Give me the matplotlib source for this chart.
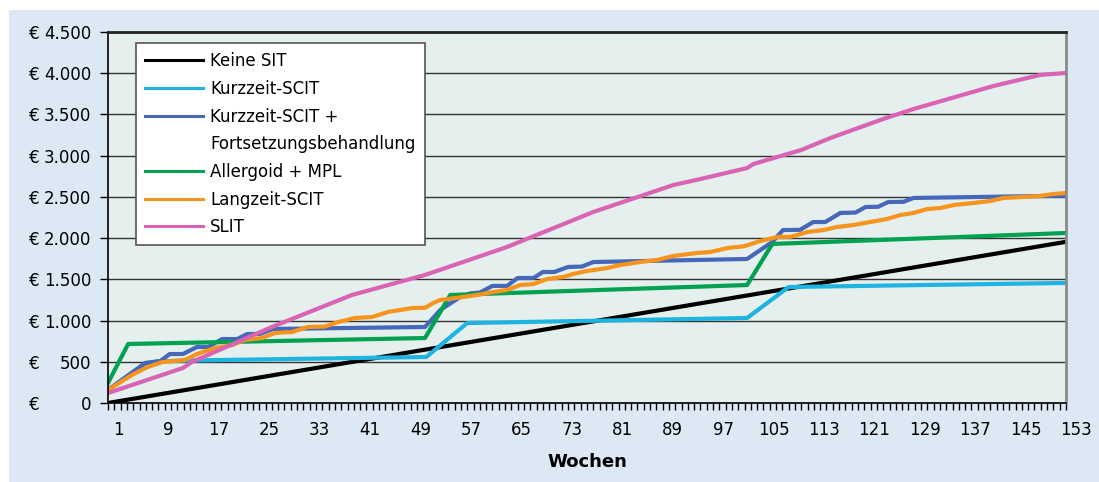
import matplotlib
matplotlib.use("Agg")
import matplotlib.pyplot as plt
from matplotlib.lines import Line2D
from matplotlib.patches import Rectangle
from matplotlib.transforms import ScaledTranslation, blended_transform_factory

# Kumulierte Kosten je Therapieform (Wochen / Euro)
keine_wochen = [1, 153]
keine_euro = [0, 1955]

kurz_wochen = [1, 7, 9, 13, 51.5, 58, 102.4, 109, 153]
kurz_euro = [158, 485, 505, 515, 558, 970, 1031, 1407, 1456]

fort_wochen = [1, 6.9, 9.3, 10.8, 12.9, 15.1, 16.9, 19.1, 21.5, 23.1, 25.1, 27.2,
               51.3, 53.7, 56.9, 58.5, 60, 62, 64.3, 66, 68.5, 70, 71.8, 74, 76.2,
               78, 102.4, 106.4, 108.1, 110.8, 112.9, 114.8, 117.2, 119.6, 121.2,
               123.2, 124.8, 127.2, 128.8, 153]
fort_euro = [158, 485, 509, 594, 594, 679, 679, 776, 776, 837, 837, 898,
             922, 1128, 1286, 1330, 1340, 1420, 1420, 1516, 1516, 1589, 1589, 1650, 1655,
             1710, 1747, 1953, 2098, 2100, 2195, 2195, 2305, 2310, 2377,
             2380, 2438, 2440, 2487, 2515]

allerg_wochen = [1, 4.2, 51.3, 55.3, 102.4, 106.4, 153]
allerg_euro = [243, 716, 788, 1310, 1431, 1929, 2062]

lang_wochen = [1, 4.8, 7.3, 9.7, 13.2, 15.1, 18, 20.7, 22.7, 25.4, 27.5, 30.2, 32.7,
               35.4, 37.5, 40.2, 42.9, 45.4, 49.3, 51.3, 52.6, 53.7, 57.3, 59.6, 62.1,
               64.3, 66.4, 68.5, 70.7, 73.2, 74.8, 77, 80.2, 82.3, 85.4, 88.1, 90.7,
               94.5, 96.6, 99.3, 101.8, 102.6, 104.5, 107.2, 109.3, 112, 114.5, 116.7,
               119.3, 121.9, 124.6, 126.7, 128.8, 131, 133.1, 135.2, 138.3, 141, 143.1,
               146.2, 148.9, 151, 153]
lang_euro = [158, 340, 437, 497, 522, 594, 667, 703, 764, 788, 849, 861, 922,
             927, 982, 1031, 1043, 1104, 1152, 1155, 1213, 1249, 1286, 1310, 1346,
             1371, 1431, 1443, 1504, 1528, 1565, 1601, 1637, 1674, 1710, 1735, 1783,
             1820, 1832, 1880, 1900, 1917, 1965, 2014, 2016, 2074, 2098, 2135,
             2159, 2195, 2232, 2280, 2305, 2353, 2365, 2402, 2426, 2450, 2487,
             2499, 2511, 2535, 2547]

slit_wochen = [1, 12.9, 14.3, 27, 39.7, 51.3, 64.3, 78, 90.7, 95, 102.4, 103.4,
               111, 115.6, 124, 128.8, 141.5, 148.9, 153]
slit_euro = [121, 425, 497, 922, 1310, 1553, 1892, 2317, 2644, 2717, 2850, 2899,
             3069, 3214, 3445, 3566, 3845, 3979, 4003]

serien = [
    ("Keine SIT", keine_wochen, keine_euro, "#000000"),
    ("Kurzzeit-SCIT", kurz_wochen, kurz_euro, "#1eb4e0"),
    ("Kurzzeit-SCIT +", fort_wochen, fort_euro, "#4767b8"),
    ("Allergoid + MPL", allerg_wochen, allerg_euro, "#00a150"),
    ("Langzeit-SCIT", lang_wochen, lang_euro, "#f7941d"),
    ("SLIT", slit_wochen, slit_euro, "#d964b4"),
]

y_ticks = list(range(0, 4501, 500))
x_labels = list(range(1, 154, 8))

plt.rcParams["font.family"] = "DejaVu Sans"
plt.rcParams["font.size"] = 12

fig = plt.figure(figsize=(10.99, 4.82), dpi=100, facecolor="white")
# hellblauer Kasten hinter dem Diagramm
fig.patches.append(Rectangle((9 / 1099, 0), 1 - 9 / 1099, 1 - 10 / 482,
                             transform=fig.transFigure, facecolor="#dce9f5",
                             edgecolor="none", zorder=-5))

ax = fig.add_axes([108 / 1099, 1 - 403 / 482, 958 / 1099, 371 / 482])
ax.set_zorder(2)
ax.set_facecolor("#e4efee")

for name, wochen, euro, farbe in serien:
    ax.plot(wochen, euro, color=farbe, lw=3.0, solid_joinstyle="round")

ax.set_xlim(1, 153)
ax.set_ylim(0, 4500)

ax.yaxis.grid(True, color="#333333", lw=1)
ax.set_axisbelow(True)

ax.spines["top"].set_color("#222222")
ax.spines["top"].set_linewidth(2)
ax.spines["right"].set_color("#8a8a8a")
ax.spines["right"].set_linewidth(2)
ax.spines["left"].set_linewidth(1.2)
ax.spines["bottom"].set_linewidth(1.2)

ax.set_yticks(y_ticks)
ax.set_yticklabels([f"{v:,}".replace(",", ".") for v in y_ticks])
ax.tick_params(axis="y", direction="out", length=6, width=1, pad=6)

ax.set_xticks(x_labels)
ax.set_xticklabels([str(w) for w in x_labels])
ax.set_xticks(range(1, 154), minor=True)
ax.tick_params(axis="x", which="both", direction="out", length=5, width=1, pad=8)
verschub = ScaledTranslation(10 / 100, 0, fig.dpi_scale_trans)
for lab in ax.get_xticklabels():
    lab.set_transform(lab.get_transform() + verschub)

# Euro-Zeichen links vor den Beträgen
trans = blended_transform_factory(ax.transAxes, ax.transData)
for v in y_ticks:
    ax.text(-0.077, v, "€", transform=trans, ha="center", va="center_baseline")

ax.set_xlabel("Wochen", fontsize=13, fontweight="bold", labelpad=10)

# Legende, zweite Zeile ohne eigenes Linienmuster
handles = []
labels = []
for name, wochen, euro, farbe in serien:
    handles.append(Line2D([], [], color=farbe, lw=2.2))
    labels.append(name)
    if name == "Kurzzeit-SCIT +":
        handles.append(Line2D([], [], color="none", lw=0))
        labels.append("Fortsetzungsbehandlung")

leg = ax.legend(handles, labels, loc="upper left", bbox_to_anchor=(0.0292, 0.970),
                borderaxespad=0, frameon=True, fancybox=False, framealpha=1,
                edgecolor="#555555", handlelength=3.5, handletextpad=0.4,
                labelspacing=0.58, borderpad=0.55, fontsize=12)
leg.get_frame().set_linewidth(1.2)

plt.savefig("out.png", dpi=100)
